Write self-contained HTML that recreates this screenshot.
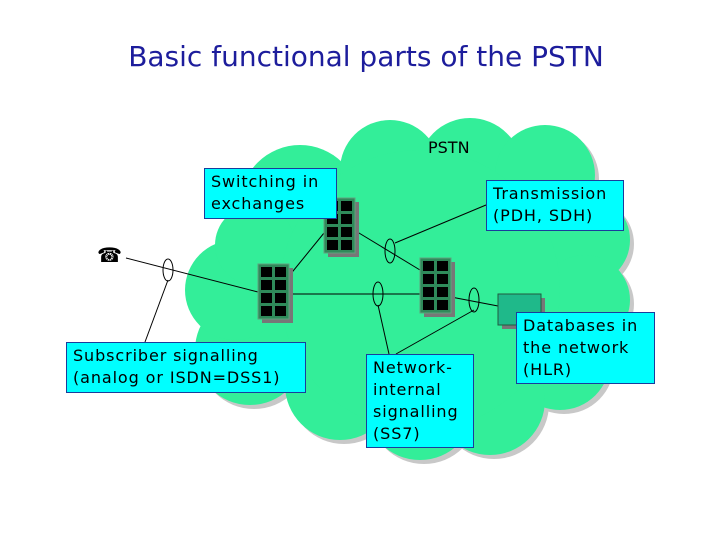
<!DOCTYPE html>
<html><head><meta charset="utf-8"><style>
body{margin:0;width:720px;height:540px;background:#fff;position:relative;overflow:hidden;font-family:"DejaVu Sans","Liberation Sans",sans-serif}
.t{position:absolute;left:0;width:732px;text-align:center;top:40px;font-size:28px;color:#1d1d9c;font-family:"DejaVu Sans","Liberation Sans",sans-serif}
.b{position:absolute;background:#00ffff;border:1px solid #1a3c9c;font-size:16px;line-height:22px;color:#000;padding:2px 0 0 6px;box-sizing:border-box;letter-spacing:0.9px;white-space:nowrap}
</style></head><body>
<div class="t">Basic functional parts of the PSTN</div>
<svg width="720" height="540" style="position:absolute;left:0;top:0">
<defs>
<g id="cl">
<circle cx="300" cy="205" r="60"/><circle cx="390" cy="170" r="50"/><circle cx="470" cy="170" r="52"/><circle cx="545" cy="175" r="50"/>
<circle cx="585" cy="240" r="45"/><circle cx="585" cy="300" r="45"/><circle cx="560" cy="360" r="50"/><circle cx="490" cy="400" r="55"/>
<circle cx="420" cy="405" r="55"/><circle cx="340" cy="385" r="55"/><circle cx="250" cy="350" r="55"/><circle cx="235" cy="290" r="50"/>
<circle cx="255" cy="245" r="40"/><circle cx="420" cy="290" r="140"/>
</g>
<g id="ex">
<rect x="0" y="0" width="31" height="55" fill="#2f8a5a" stroke="#5fa37e" stroke-width="1"/>
<rect x="3" y="3" width="11" height="10" fill="#000"/><rect x="17" y="3" width="11" height="10" fill="#000"/>
<rect x="3" y="16" width="11" height="10" fill="#000"/><rect x="17" y="16" width="11" height="10" fill="#000"/>
<rect x="3" y="29" width="11" height="10" fill="#000"/><rect x="17" y="29" width="11" height="10" fill="#000"/>
<rect x="3" y="42" width="11" height="10" fill="#000"/><rect x="17" y="42" width="11" height="10" fill="#000"/>
</g>
</defs>
<use href="#cl" fill="#c8c8c8" transform="translate(4,4)"/>
<use href="#cl" fill="#33ee99"/>
<g stroke="#000" stroke-width="1" fill="none">
<line x1="126" y1="258" x2="258" y2="292"/>
<line x1="168" y1="280" x2="145" y2="342"/>
<line x1="289" y1="294" x2="420" y2="294"/>
<line x1="289" y1="276" x2="324" y2="233"/>
<line x1="354" y1="230" x2="420" y2="270"/>
<line x1="395" y1="243" x2="486" y2="205"/>
<line x1="378" y1="305" x2="389" y2="354"/>
<line x1="451" y1="297" x2="498" y2="306"/>
<line x1="474" y1="310" x2="396" y2="354"/>
<ellipse cx="168" cy="270" rx="5" ry="11"/>
<ellipse cx="390" cy="251" rx="5" ry="12"/>
<ellipse cx="378" cy="294" rx="5" ry="12"/>
<ellipse cx="474" cy="300" rx="5" ry="12"/>
</g>
<rect x="328" y="202" width="31" height="55" fill="#777"/><use href="#ex" x="324" y="198"/>
<rect x="262" y="268" width="31" height="55" fill="#777"/><use href="#ex" x="258" y="264"/>
<rect x="424" y="262" width="31" height="55" fill="#777"/><use href="#ex" x="420" y="258"/>
<rect x="502" y="298" width="43" height="31" fill="#777"/>
<rect x="498" y="294" width="43" height="31" fill="#1fb98a" stroke="#205a40"/>
<text x="97" y="262" font-size="20" font-family="DejaVu Sans">☎</text>
<text x="428" y="153" font-size="16" font-family="DejaVu Sans">PSTN</text>
</svg>
<div class="b" style="left:204px;top:168px;width:133px;height:51px">Switching in<br>exchanges</div>
<div class="b" style="left:486px;top:180px;width:138px;height:51px">Transmission<br>(PDH, SDH)</div>
<div class="b" style="left:66px;top:342px;width:240px;height:51px">Subscriber signalling<br>(analog or ISDN=DSS1)</div>
<div class="b" style="left:366px;top:354px;width:108px;height:94px">Network-<br>internal<br>signalling<br>(SS7)</div>
<div class="b" style="left:516px;top:312px;width:139px;height:72px">Databases in<br>the network<br>(HLR)</div>
</body></html>
